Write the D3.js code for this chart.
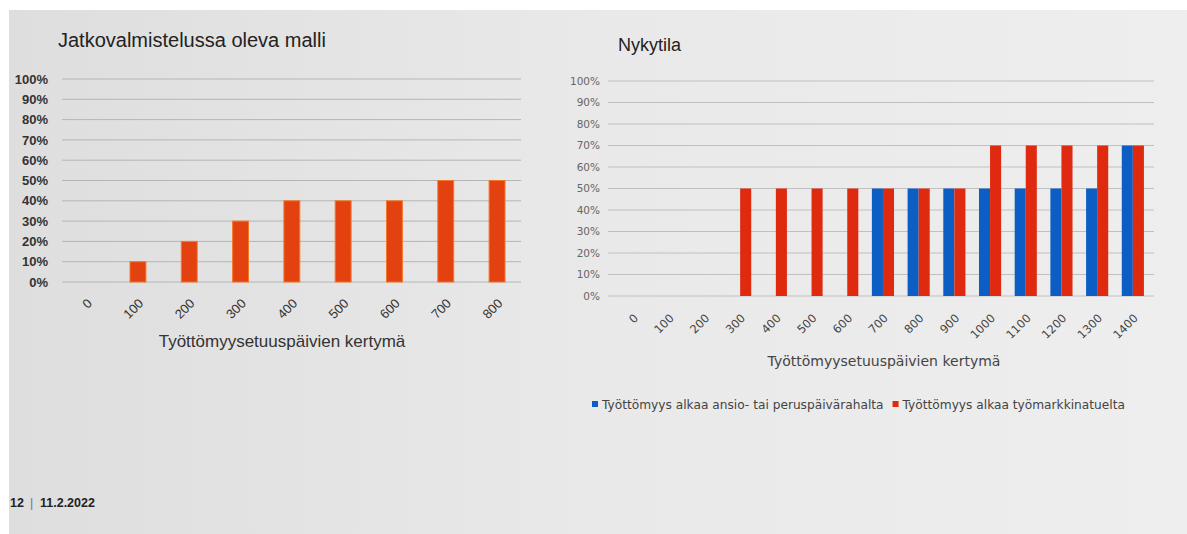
<!DOCTYPE html>
<html><head><meta charset="utf-8">
<script src="https://cdn.jsdelivr.net/npm/d3@7"></script>
<style>body{margin:0;background:#fff;}svg{display:block;}</style>
</head><body>
<svg id="c" width="1187" height="534"></svg>
<script>
// ---- data ----
const leftCategories = ["0","100","200","300","400","500","600","700","800"];
const leftValues = [0,10,20,30,40,40,40,50,50];
const rightCategories = ["0","100","200","300","400","500","600","700","800","900","1000","1100","1200","1300","1400"];
const blueValues = [0,0,0,0,0,0,0,50,50,50,50,50,50,50,70];
const redValues  = [0,0,0,50,50,50,50,50,50,50,70,70,70,70,70];
const yTicks = [0,10,20,30,40,50,60,70,80,90,100];
const seriesNames = ["Työttömyys alkaa ansio- tai peruspäivärahalta","Työttömyys alkaa työmarkkinatuelta"];
const leftTitle = "Jatkovalmistelussa oleva malli";
const rightTitle = "Nykytila";
const xTitle = "Työttömyysetuuspäivien kertymä";
const footerPage = "12";
const footerDate = "11.2.2022";

const svg = d3.select("#c");
const defs = svg.append("defs");
const g = defs.append("linearGradient").attr("id","bg").attr("x1","0").attr("x2","1");
g.append("stop").attr("offset","0").attr("stop-color","#dedede");
g.append("stop").attr("offset","0.5").attr("stop-color","#e9e9e9");
g.append("stop").attr("offset","1").attr("stop-color","#eeeeee");
svg.append("rect").attr("x",9).attr("y",10).attr("width",1178).attr("height",524).attr("fill","url(#bg)");

// ---- left chart ----
const lx = d3.scaleBand().domain(leftCategories).range([61,522.7]).paddingInner(0.69).paddingOuter(0.345);
const ly = d3.scaleLinear().domain([0,100]).range([282,79]);
const L = svg.append("g");
L.append("g").selectAll("line").data(yTicks).join("line")
  .attr("x1",62).attr("x2",521).attr("y1",d=>ly(d)).attr("y2",d=>ly(d))
  .attr("stroke","#b5b5b5").attr("stroke-width",1);
const lAxis = L.append("g").attr("transform","translate(48,0)")
  .call(d3.axisLeft(ly).tickValues(yTicks).tickFormat(d=>d+"%").tickSize(0).tickPadding(0));
lAxis.select(".domain").remove();
lAxis.selectAll("text").attr("font-family","Liberation Sans, Arial").attr("font-size",13).attr("font-weight","bold").attr("fill","#333");
L.append("g").selectAll("rect").data(leftValues).join("rect")
  .attr("x",(d,i)=>lx(leftCategories[i])).attr("width",lx.bandwidth())
  .attr("y",d=>ly(d)).attr("height",d=>ly(0)-ly(d))
  .attr("fill","#e3410f").attr("stroke","#f2792a").attr("stroke-width",1);
const lxa = L.append("g").attr("transform","translate(0,301)")
  .call(d3.axisBottom(lx).tickSize(0).tickPadding(0));
lxa.select(".domain").remove();
lxa.selectAll("text").attr("text-anchor","end").attr("dy","0.35em")
  .attr("transform","translate(3,0) rotate(-45)")
  .attr("font-family","Liberation Sans, Arial").attr("font-size",13).attr("fill","#333");
L.append("text").attr("x",282).attr("y",347).attr("text-anchor","middle")
  .attr("font-family","Liberation Sans, Arial").attr("font-size",17).attr("fill","#333").text(xTitle);
L.append("text").attr("x",58).attr("y",47)
  .attr("font-family","Liberation Sans, Arial").attr("font-size",20).attr("fill","#222").text(leftTitle);

// ---- right chart ----
const rx = d3.scaleBand().domain(rightCategories).range([615.2,1150.7]).paddingInner(0.38).paddingOuter(0.19);
const rxs = d3.scaleBand().domain([0,1]).range([0,rx.bandwidth()]);
const ry = d3.scaleLinear().domain([0,100]).range([296,81]);
const R = svg.append("g");
R.append("g").selectAll("line").data(yTicks).join("line")
  .attr("x1",608).attr("x2",1154).attr("y1",d=>ry(d)).attr("y2",d=>ry(d))
  .attr("stroke","#c0c0c0").attr("stroke-width",1);
const rAxis = R.append("g").attr("transform","translate(600,0)")
  .call(d3.axisLeft(ry).tickValues(yTicks).tickFormat(d=>d+"%").tickSize(0).tickPadding(0));
rAxis.select(".domain").remove();
rAxis.selectAll("text").attr("font-family","DejaVu Sans").attr("font-size",10.5).attr("fill","#666");
const groups = rightCategories.map((c,i)=>({c, vals:[blueValues[i], redValues[i]]}));
const colors = ["#0d5ec4","#df2a10"];
R.append("g").selectAll("g").data(groups).join("g")
  .attr("transform",d=>`translate(${rx(d.c)},0)`)
  .selectAll("rect").data(d=>d.vals.map((v,k)=>({v,k}))).join("rect")
  .attr("x",d=>rxs(d.k)).attr("width",rxs.bandwidth())
  .attr("y",d=>ry(d.v)).attr("height",d=>ry(0)-ry(d.v))
  .attr("fill",d=>colors[d.k]);
const rxa = R.append("g").attr("transform","translate(0,316)")
  .call(d3.axisBottom(rx).tickSize(0).tickPadding(0));
rxa.select(".domain").remove();
rxa.selectAll("text").attr("text-anchor","end").attr("dy","0.35em")
  .attr("transform","translate(3,0) rotate(-45)")
  .attr("font-family","DejaVu Sans").attr("font-size",11.5).attr("fill","#444");
R.append("text").attr("x",884).attr("y",366).attr("text-anchor","middle")
  .attr("font-family","DejaVu Sans").attr("font-size",14).attr("fill","#444").text(xTitle);
R.append("text").attr("x",618).attr("y",51)
  .attr("font-family","Liberation Sans, Arial").attr("font-size",18).attr("fill","#222").text(rightTitle);

// legend
const leg = R.append("g").attr("transform","translate(592,409)");
let lxPos = 0;
seriesNames.forEach((n,k)=>{
  leg.append("rect").attr("x",lxPos).attr("y",-8).attr("width",6).attr("height",6).attr("fill",colors[k]);
  const t = leg.append("text").attr("x",lxPos+10).attr("y",0).attr("font-family","DejaVu Sans").attr("font-size",12.2).attr("fill","#444").text(n);
  lxPos += 10 + t.node().getComputedTextLength() + 9;
});

// footer
const ft = svg.append("g").attr("font-family","Liberation Sans, Arial").attr("font-size",12.5).attr("font-weight","bold").attr("fill","#222");
ft.append("text").attr("x",10).attr("y",507).text(footerPage);
ft.append("text").attr("x",30).attr("y",507).attr("font-weight","normal").attr("fill","#777").text("|");
ft.append("text").attr("x",40).attr("y",507).text(footerDate);
</script>
</body></html>
